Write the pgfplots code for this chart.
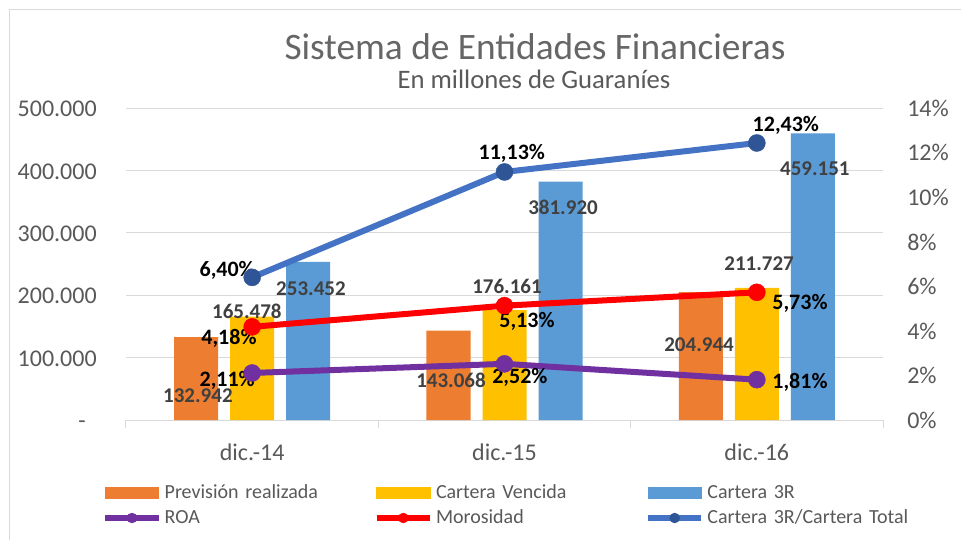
\documentclass[border=0pt]{standalone}
\usepackage{pgfplots}
\pgfplotsset{compat=1.18}
\usepackage{fontspec}
\setmainfont{Carlito}
\definecolor{cOrange}{HTML}{ED7D31}
\definecolor{cGold}{HTML}{FFC000}
\definecolor{cBlue}{HTML}{5B9BD5}
\definecolor{cPurple}{HTML}{7030A0}
\definecolor{cRed}{HTML}{FF0000}
\definecolor{cLine}{HTML}{4472C4}
\definecolor{cMark}{HTML}{2F5597}
\definecolor{gridc}{HTML}{D9D9D9}
\definecolor{tickc}{HTML}{595959}
\definecolor{titc}{HTML}{666666}
\definecolor{labc}{HTML}{404040}
\tikzset{
  lab/.style={font=\fontsize{15.75}{18}\selectfont\bfseries, text=labc, inner sep=0pt, text height=10pt, text depth=0pt, anchor=center},
  pct/.style={font=\fontsize{16.5}{19}\selectfont\bfseries, text=black, inner sep=0pt, text height=10.4pt, text depth=0pt, anchor=center},
}
\begin{document}
\begin{tikzpicture}
\useasboundingbox (0,0) rectangle (720.75pt,405pt);
\fill[white] (0,0) rectangle (720.75pt,405pt);
\draw[gridc, line width=0.75pt] (6.75pt,0pt) -- (6.75pt,397.5pt) -- (720.75pt,397.5pt);
\node[anchor=base, inner sep=0pt, text=titc, font=\fontsize{28}{32}\selectfont] at (401.25pt,360pt) {Sistema de Entidades Financieras};
\node[anchor=base, inner sep=0pt, text=tickc, font=\fontsize{20}{24}\selectfont] at (400.5pt,338.6pt) {En millones de Guaraníes};
% ---------- bars (left axis)
\begin{axis}[
  at={(94.5pt,90pt)}, anchor=south west,
  scale only axis, width=567.75pt, height=234pt,
  xmin=-0.5, xmax=2.5, ymin=0, ymax=500000,
  axis x line*=bottom, axis y line*=left,
  x axis line style={draw=gridc, line width=0.75pt, -},
  y axis line style={draw=none},
  xtick={0,1,2}, xticklabels={dic.-14,dic.-15,dic.-16},
  ytick={0,100000,200000,300000,400000,500000},
  yticklabels={-\kern8.25pt,100.000,200.000,300.000,400.000,500.000},
  scaled y ticks=false,
  major tick length=0pt,
  ymajorgrids, grid style={draw=gridc, line width=0.75pt},
  tick label style={font=\fontsize{18}{21}\selectfont, text=tickc, inner sep=0pt},
  xticklabel style={anchor=base, yshift=-30pt},
  yticklabel style={anchor=base east, xshift=-21.75pt, yshift=-6.5pt},
  extra x ticks={-0.5,0.5,1.5,2.5}, extra x tick labels={},
  extra x tick style={major tick length=6pt, tick align=outside, tick style={draw=gridc, line width=0.75pt}, grid=none},
  /pgf/number format/assume math mode=true,
]
\addplot[ybar, bar width=33pt, bar shift=-42pt, fill=cOrange, draw=none] coordinates {(0,132942) (1,143068) (2,204944)};
\addplot[ybar, bar width=33pt, bar shift=0pt, fill=cGold, draw=none] coordinates {(0,165478) (1,176161) (2,211727)};
\addplot[ybar, bar width=33pt, bar shift=42pt, fill=cBlue, draw=none] coordinates {(0,253452) (1,381920) (2,459151)};
\end{axis}
% ---------- lines (right axis)
\begin{axis}[
  at={(94.5pt,90pt)}, anchor=south west,
  scale only axis, width=567.75pt, height=234pt,
  xmin=-0.5, xmax=2.5, ymin=0, ymax=14,
  axis x line=none, axis y line*=right,
  y axis line style={draw=none},
  ytick={0,2,4,6,8,10,12,14},
  yticklabels={0\%,2\%,4\%,6\%,8\%,10\%,12\%,14\%},
  major tick length=0pt,
  tick label style={font=\fontsize{18}{21}\selectfont, text=tickc, inner sep=0pt},
  yticklabel style={anchor=base west, xshift=18pt, yshift=-6.25pt},
  clip=false,
  legend columns=3,
  legend cell align=left,
  legend style={at={(-0.0317,-0.203)}, anchor=north west, draw=none, fill=none,
    inner sep=0pt, outer sep=0pt, column sep=0pt, row sep=4.25pt,
    font=\fontsize{15}{18}\selectfont, text=tickc,
    nodes={inner sep=0pt, text width=156.5pt, align=left, text height=11pt, text depth=3.5pt}},
  legend image code/.code={\draw[#1, line width=5pt, mark size=3.75pt, mark repeat=2, mark phase=2] plot coordinates {(0pt,0pt) (20pt,0pt) (40pt,0pt)}; \path (42.25pt,0pt);},
]
\addlegendimage{legend image code/.code={\fill[cOrange] (0pt,-4.125pt) rectangle (40pt,4.125pt); \path (42.25pt,0pt);}}
\addlegendentry{Previsión realizada}
\addlegendimage{legend image code/.code={\fill[cGold] (0pt,-4.125pt) rectangle (40pt,4.125pt); \path (42.25pt,0pt);}}
\addlegendentry{Cartera Vencida}
\addlegendimage{legend image code/.code={\fill[cBlue] (0pt,-4.125pt) rectangle (40pt,4.125pt); \path (42.25pt,0pt);}}
\addlegendentry{Cartera 3R}
\addplot[color=cPurple, line width=4.5pt, line join=round, mark=*, mark size=6.4pt, mark options={solid, fill=cPurple, draw=cPurple, line width=0.3pt}] coordinates {(0,2.11) (1,2.52) (2,1.81)};
\addlegendentry{ROA}
\addplot[color=cRed, line width=4.5pt, line join=round, mark=*, mark size=6.4pt, mark options={solid, fill=cRed, draw=cRed, line width=0.3pt}] coordinates {(0,4.18) (1,5.13) (2,5.73)};
\addlegendentry{Morosidad}
\addplot[color=cLine, line width=4.5pt, line join=round, mark=*, mark size=6.4pt, mark options={solid, fill=cMark, draw=cMark, line width=0.3pt}] coordinates {(0,6.40) (1,11.13) (2,12.43)};
\addlegendentry{Cartera 3R/Cartera Total}
% bar labels
\node[lab] at (axis cs:-0.215,1.077) {132.942};
\node[lab] at (axis cs:-0.021,4.846) {165.478};
\node[lab] at (axis cs:0.233,5.878) {253.452};
\node[lab] at (axis cs:0.788,1.750) {143.068};
\node[lab] at (axis cs:1.010,5.968) {176.161};
\node[lab] at (axis cs:1.232,9.513) {381.920};
\node[lab] at (axis cs:1.771,3.365) {204.944};
\node[lab] at (axis cs:2.009,7.000) {211.727};
\node[lab] at (axis cs:2.230,11.263) {459.151};
% percent labels
\node[pct] at (axis cs:-0.099,6.731) {6,40\%};
\node[pct] at (axis cs:-0.092,3.679) {4,18\%};
\node[pct] at (axis cs:-0.099,1.795) {2,11\%};
\node[pct] at (axis cs:1.029,11.981) {11,13\%};
\node[pct] at (axis cs:1.089,4.442) {5,13\%};
\node[pct] at (axis cs:1.061,1.929) {2,52\%};
\node[pct] at (axis cs:2.115,13.237) {12,43\%};
\node[pct] at (axis cs:2.171,5.250) {5,73\%};
\node[pct] at (axis cs:2.171,1.705) {1,81\%};
\end{axis}
\end{tikzpicture}
\end{document}
